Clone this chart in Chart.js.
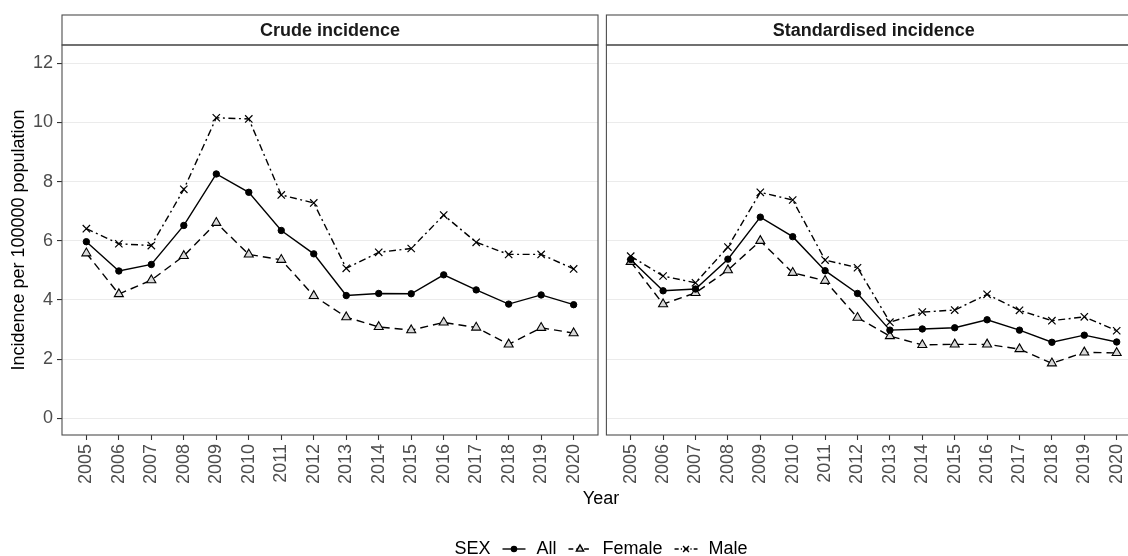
<!DOCTYPE html>
<html>
<head>
<meta charset="utf-8">
<script src="https://cdn.jsdelivr.net/npm/chart.js@4.4.0/dist/chart.umd.min.js"></script>
<style>
  html, body { margin: 0; padding: 0; background: #fff; }
  #wrap { position: relative; width: 1128px; height: 556px; overflow: hidden; background: #fff; }
  #wrap canvas { position: absolute; top: 0; }
</style>
</head>
<body>
<div id="wrap">
  <canvas id="crudeChart" width="1128" height="556" style="left:0"></canvas>
  <canvas id="stdChart" width="560" height="556" style="left:600px"></canvas>
</div>
<script>
// data
const years = [2005, 2006, 2007, 2008, 2009, 2010, 2011, 2012, 2013, 2014, 2015, 2016, 2017, 2018, 2019, 2020];
const yTicks = [0, 2, 4, 6, 8, 10, 12];

const crudeAll    = [5.97, 4.98, 5.20, 6.52, 8.26, 7.64, 6.35, 5.56, 4.15, 4.22, 4.21, 4.85, 4.34, 3.86, 4.17, 3.84];
const crudeFemale = [5.58, 4.20, 4.67, 5.49, 6.61, 5.54, 5.36, 4.14, 3.42, 3.09, 2.98, 3.24, 3.07, 2.50, 3.06, 2.88];
const crudeMale   = [6.41, 5.90, 5.84, 7.74, 10.16, 10.12, 7.55, 7.28, 5.07, 5.61, 5.74, 6.87, 5.95, 5.54, 5.54, 5.05];

const stdAll    = [5.37, 4.31, 4.37, 5.38, 6.80, 6.14, 4.99, 4.22, 2.98, 3.02, 3.06, 3.33, 2.98, 2.57, 2.81, 2.58];
const stdFemale = [5.29, 3.86, 4.24, 5.01, 6.00, 4.92, 4.65, 3.40, 2.78, 2.48, 2.50, 2.50, 2.34, 1.86, 2.23, 2.21];
const stdMale   = [5.48, 4.81, 4.58, 5.79, 7.64, 7.38, 5.35, 5.09, 3.25, 3.59, 3.66, 4.19, 3.65, 3.30, 3.43, 2.96];

const FONT = '"Liberation Sans", Arial, sans-serif';
Chart.defaults.font.family = FONT;

function makeDatasets(all, female, male) {
  const pts = arr => years.map((x, i) => ({ x: x, y: arr[i] }));
  return [
    { label: 'All', data: pts(all), borderColor: '#000', borderWidth: 1.4, borderDash: [],
      pointStyle: 'circle', pointRadius: 3.2, pointBackgroundColor: '#000', pointBorderColor: '#000', pointBorderWidth: 1 },
    { label: 'Female', data: pts(female), borderColor: '#000', borderWidth: 1.4, borderDash: [8, 5],
      pointStyle: 'triangle', pointRadius: 5.2, pointBackgroundColor: '#d9d9d9', pointBorderColor: '#000', pointBorderWidth: 1.1 },
    { label: 'Male', data: pts(male), borderColor: '#000', borderWidth: 1.4, borderDash: [7, 3.5, 2, 3.5],
      pointStyle: 'crossRot', pointRadius: 5.2, pointBackgroundColor: '#000', pointBorderColor: '#000', pointBorderWidth: 1.2 }
  ];
}

// strip + panel border
const panelFrame = {
  id: 'panelFrame',
  afterDraw(chart, args, opts) {
    const { ctx, chartArea: a } = chart;
    ctx.save();
    ctx.strokeStyle = '#4d4d4d';
    ctx.lineWidth = 1.1;
    ctx.fillStyle = '#fff';
    ctx.fillRect(a.left, 15, a.right - a.left, a.top - 15);
    ctx.strokeRect(a.left, 15, a.right - a.left, a.top - 15);
    ctx.strokeRect(a.left, a.top, a.right - a.left, a.bottom - a.top);
    ctx.fillStyle = '#1a1a1a';
    ctx.font = 'bold 18px ' + FONT;
    ctx.textAlign = 'center';
    ctx.textBaseline = 'middle';
    ctx.fillText(opts.title, (a.left + a.right) / 2, 31);
    ctx.restore();
  }
};

// y title, x title and the legend across the whole figure
const figureText = {
  id: 'figureText',
  afterDraw(chart) {
    const ctx = chart.ctx;
    ctx.save();
    ctx.fillStyle = '#000';
    ctx.font = '18px ' + FONT;
    ctx.textBaseline = 'middle';
    ctx.textAlign = 'center';
    ctx.fillText('Year', 601, 499);

    ctx.save();
    ctx.translate(19, 240);
    ctx.rotate(-Math.PI / 2);
    ctx.fillText('Incidence per 100000 population', 0, 0);
    ctx.restore();

    // legend
    const y = 549, symW = 23, gapIn = 11, gapOut = 12;
    const ds = chart.data.datasets;
    let total = ctx.measureText('SEX').width;
    ds.forEach(d => { total += gapOut + symW + gapIn + ctx.measureText(d.label).width; });
    let x = 601 - total / 2;
    ctx.textAlign = 'left';
    ctx.fillText('SEX', x, y);
    x += ctx.measureText('SEX').width;
    ds.forEach(d => {
      x += gapOut;
      ctx.save();
      ctx.strokeStyle = d.borderColor;
      ctx.lineWidth = d.borderWidth;
      ctx.setLineDash(d.borderDash.map(v => v * 0.6));
      ctx.beginPath();
      ctx.moveTo(x, y);
      ctx.lineTo(x + symW, y);
      ctx.stroke();
      ctx.setLineDash([]);
      ctx.fillStyle = d.pointBackgroundColor;
      ctx.strokeStyle = d.pointBorderColor;
      Chart.helpers.drawPoint(ctx, { pointStyle: d.pointStyle, radius: d.pointRadius * 0.8, rotation: 0, borderWidth: d.pointBorderWidth }, x + symW / 2, y);
      ctx.restore();
      x += symW + gapIn;
      ctx.fillStyle = '#000';
      ctx.fillText(d.label, x, y);
      x += ctx.measureText(d.label).width;
    });
    ctx.restore();
  }
};

function makeOptions(title, showY, padding) {
  return {
    responsive: false,
    animation: false,
    layout: { padding: padding },
    elements: { line: { tension: 0, fill: false } },
    plugins: { legend: { display: false }, tooltip: { enabled: false }, panelFrame: { title: title } },
    scales: {
      x: {
        type: 'linear', min: 2004.25, max: 2020.75,
        afterBuildTicks: s => { s.ticks = years.map(v => ({ value: v })); },
        afterFit: s => { s.height = 121; },
        border: { display: false },
        grid: { drawOnChartArea: false, drawTicks: true, tickLength: 5, tickColor: '#333', tickWidth: 1.1 },
        ticks: { autoSkip: false, minRotation: 90, maxRotation: 90, padding: 4, color: '#4d4d4d',
                 font: { size: 18 }, callback: v => String(v) }
      },
      y: {
        min: -0.565, max: 12.62,
        afterBuildTicks: s => { s.ticks = yTicks.map(v => ({ value: v })); },
        afterFit: s => { s.width = showY ? 62 : 0; },
        border: { display: false },
        grid: { color: '#ebebeb', lineWidth: 1.1, drawTicks: showY, tickLength: 5, tickColor: '#333', tickWidth: 1.1 },
        ticks: { display: showY, padding: 4, color: '#4d4d4d', font: { size: 18 } }
      }
    }
  };
}

new Chart(document.getElementById('crudeChart'), {
  type: 'line',
  data: { datasets: makeDatasets(crudeAll, crudeFemale, crudeMale) },
  options: makeOptions('Crude incidence', true, { left: 0, right: 530, top: 45, bottom: 0 }),
  plugins: [panelFrame, figureText]
});

new Chart(document.getElementById('stdChart'), {
  type: 'line',
  data: { datasets: makeDatasets(stdAll, stdFemale, stdMale) },
  options: makeOptions('Standardised incidence', false, { left: 5, right: 19, top: 45, bottom: 0 }),
  plugins: [panelFrame]
});
</script>
</body>
</html>
